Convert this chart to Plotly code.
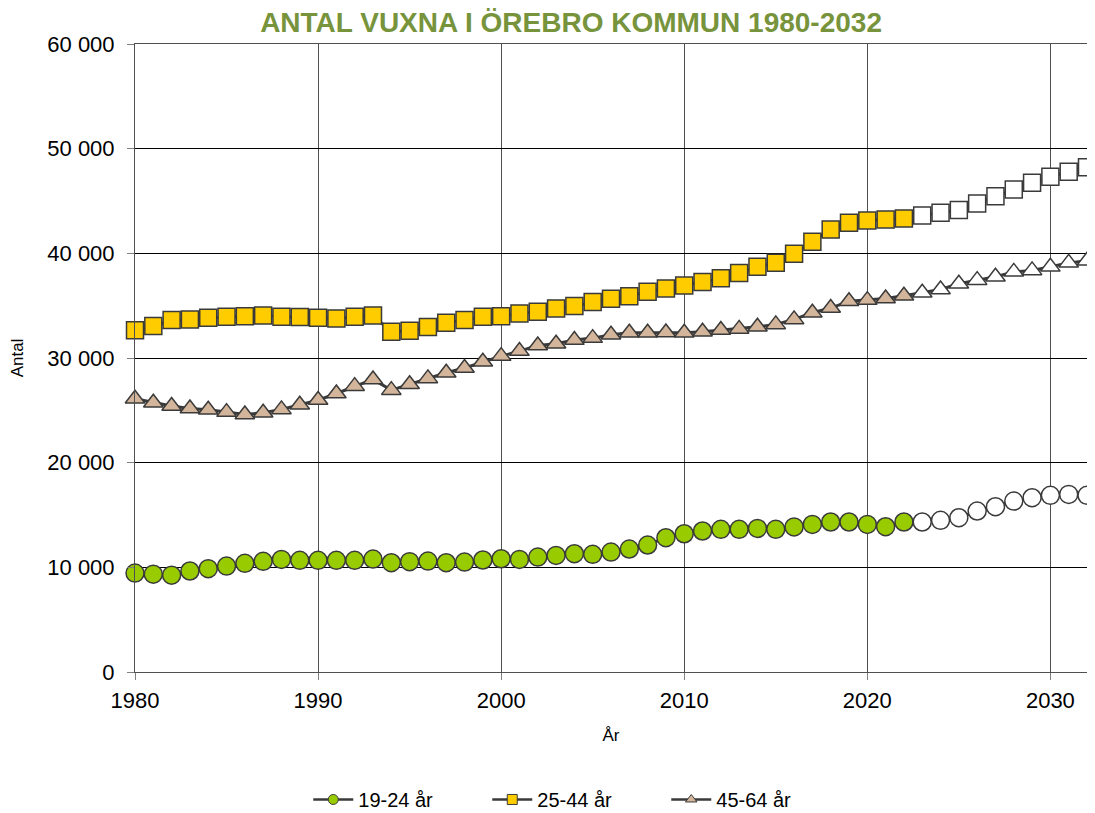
import plotly.graph_objects as go

years = list(range(1980, 2033))
last_observed = 2022

age_19_24 = [9450, 9350, 9250, 9650, 9870, 10120, 10380, 10570, 10760, 10670,
             10670, 10670, 10670, 10790, 10440, 10540, 10600, 10440, 10500, 10700,
             10820, 10760, 10980, 11140, 11300, 11240, 11460, 11750, 12130, 12830,
             13210, 13470, 13630, 13630, 13720, 13630, 13860, 14100, 14330, 14330,
             14100, 13880, 14330, 14330, 14490, 14740, 15380, 15790, 16330, 16650,
             16880, 16970, 16880]

age_25_44 = [32640, 33050, 33620, 33680, 33840, 33940, 34000, 34060, 33940, 33910,
             33840, 33780, 33940, 34060, 32500, 32600, 32950, 33360, 33620, 33940,
             34000, 34260, 34410, 34740, 34960, 35340, 35660, 35910, 36330, 36650,
             36930, 37260, 37630, 38110, 38710, 39090, 39950, 41100, 42280, 42920,
             43140, 43240, 43330, 43620, 43870, 44130, 44760, 45460, 46100, 46740,
             47310, 47790, 48230]

age_45_64 = [26100, 25720, 25410, 25180, 25050, 24830, 24610, 24770, 25090, 25530,
             25980, 26610, 27310, 27950, 26930, 27500, 28050, 28590, 29040, 29640,
             30180, 30660, 31200, 31360, 31710, 31900, 32220, 32410, 32410, 32440,
             32410, 32500, 32670, 32780, 32980, 33210, 33690, 34320, 34770, 35430,
             35530, 35690, 35950, 36230, 36550, 37090, 37440, 37760, 38230, 38370,
             38710, 39090, 39290]

series_names = ["19-24 år", "25-44 år", "45-64 år"]
series_colors = ["#99CC00", "#FFCC00", "#D2B59A"]
series_symbols = ["circle", "square", "triangle-up"]
series_sizes = [18, 17, 17]
series_values = [age_19_24, age_25_44, age_45_64]

y_ticks = [0, 10000, 20000, 30000, 40000, 50000, 60000]
y_ticktext = ["0", "10 000", "20 000", "30 000", "40 000", "50 000", "60 000"]
x_ticks = [1980, 1990, 2000, 2010, 2020, 2030]

line_col = "#3a3a3a"
fig = go.Figure()
for name, col, sym, sz, vals in zip(series_names, series_colors, series_symbols, series_sizes, series_values):
    fills = [col if y <= last_observed else "white" for y in years]
    fig.add_trace(go.Scatter(
        x=years, y=vals, mode="lines+markers", name=name, showlegend=False,
        line=dict(color=line_col, width=3),
        marker=dict(symbol=sym, size=sz, color=fills, line=dict(color=line_col, width=1.5)),
        cliponaxis=False,
    ))
for name, col, sym in zip(series_names, series_colors, series_symbols):
    fig.add_trace(go.Scatter(
        x=[None], y=[None], mode="lines+markers", name=name,
        line=dict(color=line_col, width=2.5),
        marker=dict(symbol=sym, size=10, color=col, line=dict(color=line_col, width=1)),
    ))

fig.update_layout(
    width=1087, height=805,
    margin=dict(l=127, r=8, t=36, b=141, autoexpand=False),
    paper_bgcolor="white", plot_bgcolor="white",
    title=dict(text="<b>ANTAL VUXNA I ÖREBRO KOMMUN 1980-2032</b>",
               font=dict(family="Liberation Sans", size=28, color="#77933C"),
               x=0.518, xanchor="center", y=0.982, yanchor="middle"),
    font=dict(family="Liberation Sans", color="black"),
    legend=dict(orientation="h", x=0.182, xanchor="left", y=-0.203, yanchor="middle",
                font=dict(size=20), itemwidth=40, tracegroupgap=0,
                entrywidth=124, entrywidthmode="pixels"),
    xaxis=dict(range=[1980, 2032], tickvals=x_ticks, tickfont=dict(size=22),
               showgrid=True, gridcolor="#505050", gridwidth=1, automargin=False,
               showline=True, linecolor="#505050", linewidth=1, mirror=True,
               ticks="outside", ticklen=7, tickcolor="#808080", zeroline=False,
               ticklabelstandoff=2,
               title=dict(text="År", font=dict(size=17), standoff=16)),
    yaxis=dict(range=[0, 60000], tickvals=y_ticks, ticktext=y_ticktext, tickfont=dict(size=22),
               showgrid=True, gridcolor="black", gridwidth=1, automargin=False,
               showline=True, linecolor="#505050", linewidth=1, mirror=True,
               ticks="outside", ticklen=7, tickcolor="#808080", zeroline=False,
               ticklabelstandoff=8,
               title=dict(text="Antal", font=dict(size=17), standoff=38)),
)
fig.write_html("out.html")
